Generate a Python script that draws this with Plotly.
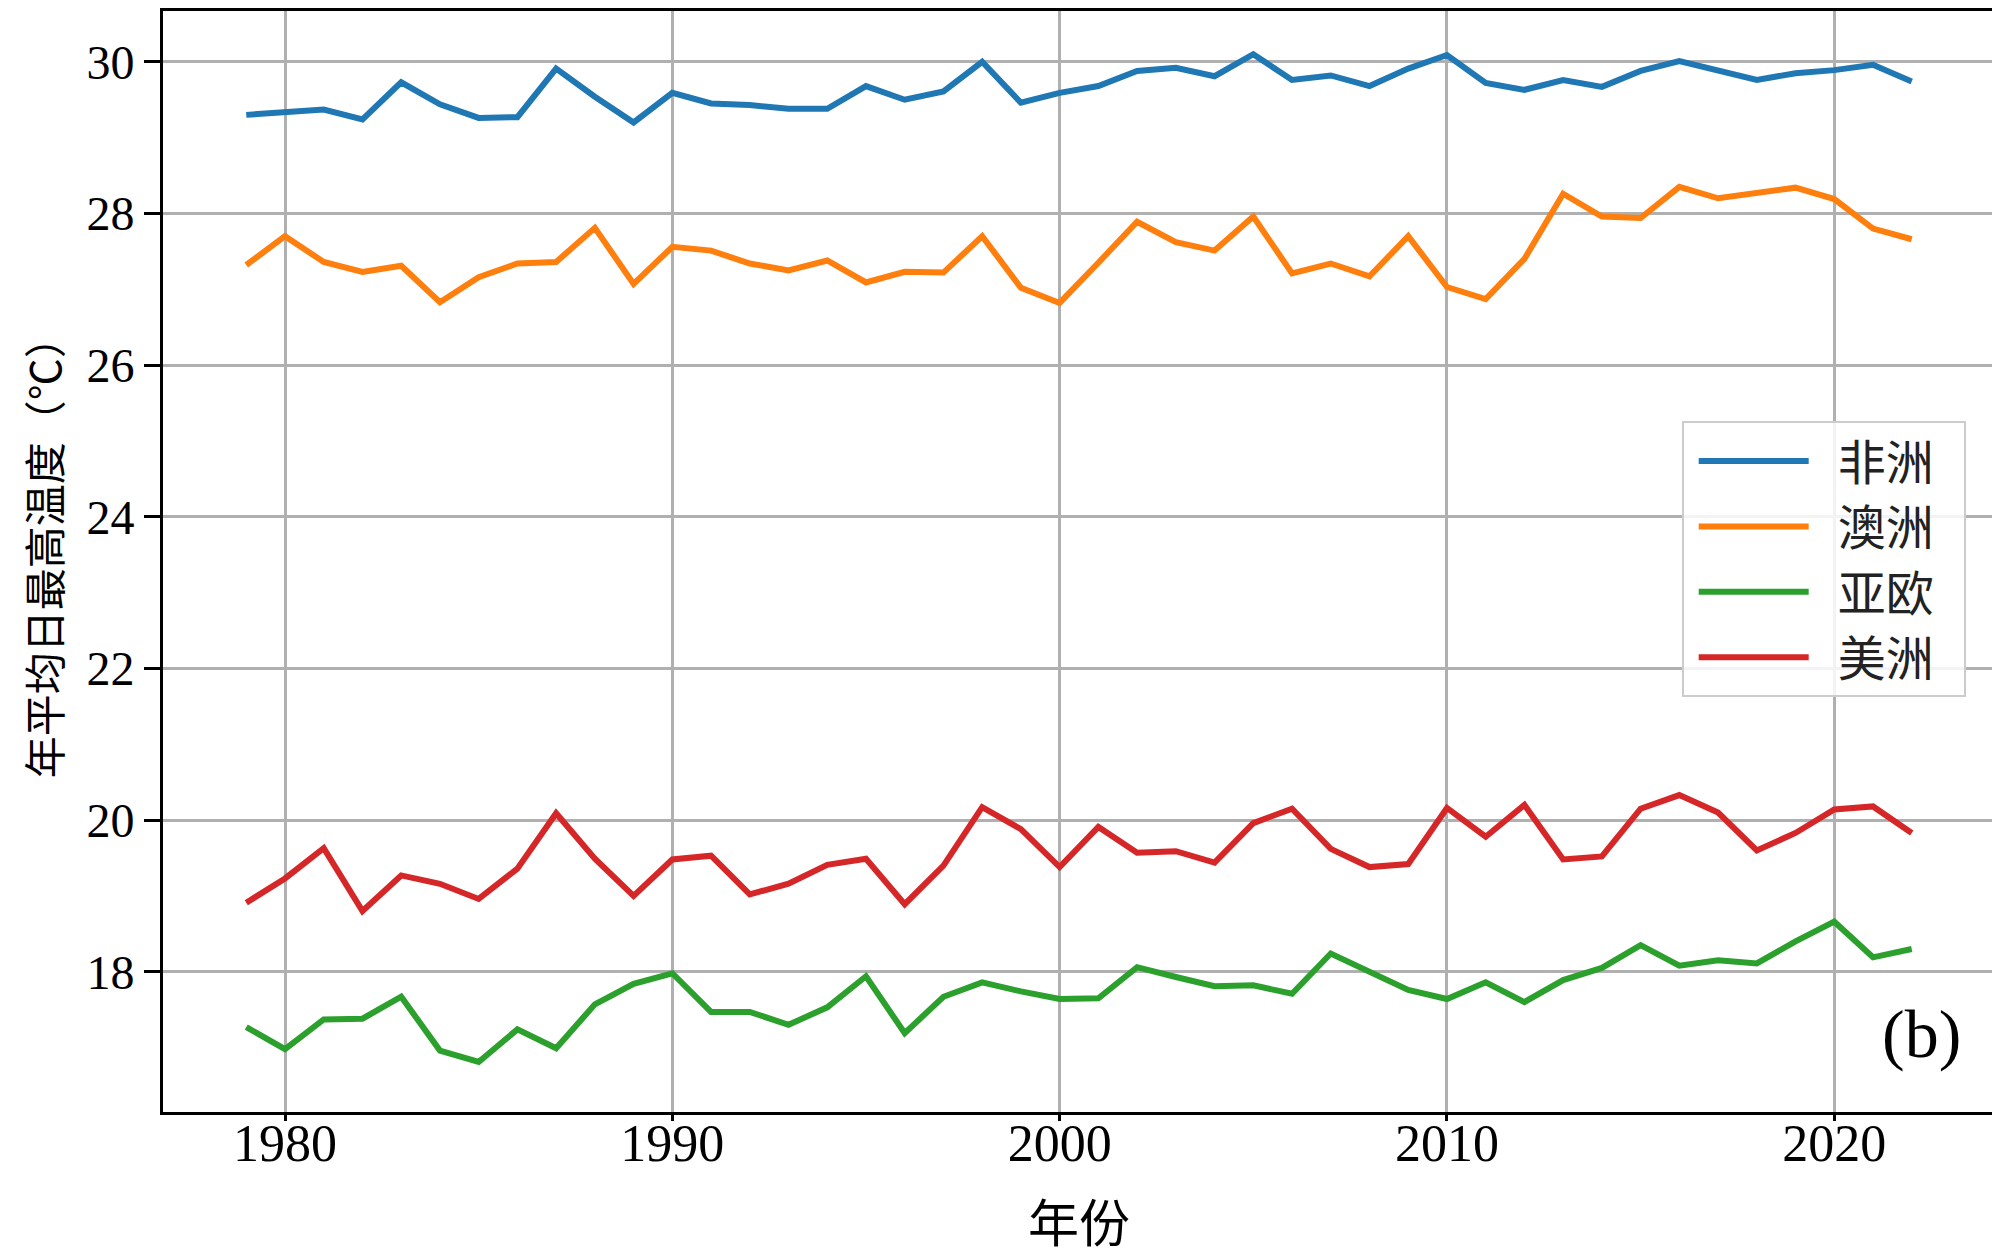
import plotly.graph_objects as go

years = list(range(1979, 2023))

africa = [29.30, 29.33, 29.37, 29.24, 29.73, 29.44, 29.26, 29.27, 29.91, 29.54,
          29.20, 29.59, 29.45, 29.43, 29.38, 29.38, 29.68, 29.50, 29.61, 30.00,
          29.46, 29.59, 29.68, 29.88, 29.92, 29.81, 30.10, 29.76, 29.82, 29.68,
          29.91, 30.09, 29.72, 29.63, 29.76, 29.67, 29.88, 30.01, 29.88, 29.76,
          29.85, 29.89, 29.96, 29.74]

australia = [27.32, 27.70, 27.36, 27.23, 27.31, 26.83, 27.16, 27.34, 27.36, 27.81,
             27.07, 27.56, 27.51, 27.34, 27.25, 27.38, 27.09, 27.23, 27.22, 27.70,
             27.02, 26.82, 27.35, 27.89, 27.62, 27.51, 27.96, 27.21, 27.34, 27.17,
             27.70, 27.03, 26.87, 27.40, 28.26, 27.96, 27.94, 28.35, 28.20, 28.26,
             28.34, 28.19, 27.80, 27.66]

eurasia = [17.27, 16.98, 17.37, 17.38, 17.67, 16.96, 16.81, 17.24, 16.99, 17.57,
           17.84, 17.98, 17.47, 17.47, 17.30, 17.53, 17.94, 17.19, 17.67, 17.86,
           17.74, 17.64, 17.65, 18.06, 17.93, 17.81, 17.82, 17.71, 18.24, 17.99,
           17.76, 17.64, 17.86, 17.60, 17.89, 18.05, 18.35, 18.08, 18.15, 18.11,
           18.40, 18.66, 18.19, 18.30]

america = [18.91, 19.23, 19.63, 18.80, 19.27, 19.16, 18.96, 19.36, 20.09, 19.49,
           19.00, 19.48, 19.53, 19.02, 19.16, 19.41, 19.49, 18.89, 19.40, 20.17,
           19.88, 19.38, 19.91, 19.57, 19.59, 19.44, 19.96, 20.15, 19.62, 19.38,
           19.42, 20.16, 19.78, 20.20, 19.48, 19.52, 20.15, 20.33, 20.10, 19.60,
           19.83, 20.14, 20.18, 19.83]

series_names = ["非洲", "澳洲", "亚欧", "美洲"]
series_colors = ["#1f77b4", "#ff7f0e", "#2ca02c", "#d62728"]
series_values = [africa, australia, eurasia, america]

x_ticks = [1980, 1990, 2000, 2010, 2020]
y_ticks = [18, 20, 22, 24, 26, 28, 30]

serif = "Liberation Serif, Times New Roman, serif"
cjk = "Noto Sans CJK SC, Noto Sans, sans-serif"

fig = go.Figure()
for name, color, vals in zip(series_names, series_colors, series_values):
    fig.add_trace(go.Scatter(x=years, y=vals, mode="lines",
                             name="\u2002" + name + "\u2002",
                             line=dict(color=color, width=6)))

axis_common = dict(showline=True, mirror=True, linecolor="black", linewidth=3,
                   showgrid=True, gridcolor="#b0b0b0", gridwidth=3,
                   zeroline=False, ticks="outside", tickcolor="black", tickwidth=3,
                   automargin=False)

fig.update_xaxes(range=[1976.85, 2024.15], tickvals=x_ticks, ticklen=6,
                 tickfont=dict(family=serif, size=52, color="black"),
                 ticklabelstandoff=-22,
                 **axis_common)
fig.update_yaxes(range=[16.15, 30.67], tickvals=y_ticks, ticklen=16,
                 tickfont=dict(family=serif, size=48, color="black"),
                 ticklabelstandoff=0,
                 **axis_common)

# axis titles
fig.add_annotation(x=0.5, y=-0.0985, xref="paper", yref="paper",
                   xanchor="center", yanchor="middle", showarrow=False,
                   text="年份", font=dict(family=cjk, size=51, color="black"))
fig.add_annotation(x=-0.066, y=0.513, xref="paper", yref="paper",
                   xanchor="center", yanchor="middle", showarrow=False,
                   textangle=-90,
                   text="年平均日最高温度（℃）",
                   font=dict(family=cjk, size=42, color="black"))

fig.add_annotation(x=0.960, y=0.071, xref="paper", yref="paper",
                   xanchor="center", yanchor="middle", showarrow=False,
                   text="(b)", font=dict(family=serif, size=68, color="black"))

fig.update_layout(
    width=1992, height=1249,
    margin=dict(l=155, r=5, t=3, b=145, autoexpand=False),
    plot_bgcolor="white", paper_bgcolor="white",
    legend=dict(x=0.984, y=0.502, xanchor="right", yanchor="middle",
                bgcolor="rgba(255,255,255,0.85)", bordercolor="#cccccc",
                borderwidth=2, itemwidth=110, indentation=10,
                font=dict(family=cjk, size=48, color="#222222"),
                tracegroupgap=0),
)

fig.write_html("out.html")
